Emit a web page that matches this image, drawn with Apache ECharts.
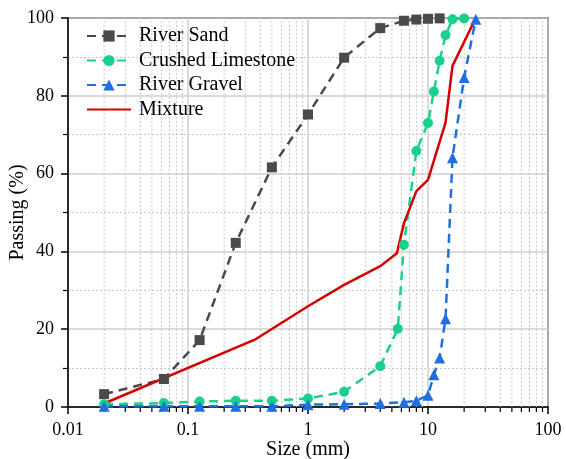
<!DOCTYPE html>
<html>
<head>
<meta charset="utf-8">
<script src="https://cdn.jsdelivr.net/npm/echarts@6/dist/echarts.min.js"></script>
<style>html,body{margin:0;padding:0;background:#fff}#c{width:566px;height:459px}</style>
</head>
<body>
<div id="c"></div>
<script>
// Sizes (mm) and passing (%)
var sandSizes = [0.02, 0.063, 0.125, 0.25, 0.5, 1, 2, 4, 6.3, 8, 10, 12.5];
var sandPass  = [3.3, 7.2, 17.2, 42.2, 61.6, 75.2, 89.8, 97.4, 99.3, 99.6, 99.8, 99.9];

var limeSizes = [0.02, 0.063, 0.125, 0.25, 0.5, 1, 2, 4, 5.6, 6.3, 8, 10, 11.2, 12.5, 14, 16, 20];
var limePass  = [0.7, 1.0, 1.4, 1.6, 1.6, 2.2, 3.9, 10.5, 20.1, 41.7, 65.8, 73.0, 81.1, 89.0, 95.6, 99.7, 99.9];

var gravSizes = [0.02, 0.063, 0.125, 0.25, 0.5, 1, 2, 4, 6.3, 8, 10, 11.2, 12.5, 14, 16, 20, 25];
var gravPass  = [0.2, 0.2, 0.2, 0.2, 0.2, 0.6, 0.7, 0.9, 1.2, 1.6, 3.0, 8.3, 12.6, 22.7, 64.1, 84.7, 99.7];

var mixSizes = [0.02, 0.36, 1, 2, 4, 5.5, 6.3, 8, 10, 14, 16, 25];
var mixPass  = [0.9, 17.3, 25.9, 31.4, 36.2, 39.5, 47.2, 55.5, 58.4, 73.1, 87.7, 100];

var seriesNames = ['River Sand', 'Crushed Limestone', 'River Gravel', 'Mixture'];
var xTicks = [0.01, 0.1, 1, 10, 100];
// minor (unlabelled) log ticks: 2..9 within each decade
var xMinorTicks = [0.02, 0.03, 0.04, 0.05, 0.06, 0.07, 0.08, 0.09,
                   0.2, 0.3, 0.4, 0.5, 0.6, 0.7, 0.8, 0.9,
                   2, 3, 4, 5, 6, 7, 8, 9,
                   20, 30, 40, 50, 60, 70, 80, 90];
var yMin = 0, yMax = 100, yStep = 20;

function pairs(xs, ys) { return xs.map(function (x, i) { return [x, ys[i]]; }); }

var FONT = 'Liberation Serif';
var chart = echarts.init(document.getElementById('c'), null, {renderer: 'canvas'});
var dash = [9, 6];

chart.setOption({
  animation: false,
  backgroundColor: '#fff',
  grid: {left: 68, right: 18, top: 18, bottom: 52, containLabel: false, outerBoundsMode: 'none',
         show: true, borderColor: '#000', borderWidth: 1.5, backgroundColor: 'transparent'},
  legend: {
    orient: 'vertical', left: 81, top: 21, itemWidth: 44, itemHeight: 14, itemGap: 4.5,
    textStyle: {fontFamily: FONT, fontSize: 20, color: '#000', padding: [0, 0, 0, 3]},
    data: [seriesNames[0], seriesNames[1], seriesNames[2], {name: seriesNames[3], itemStyle: {opacity: 0}}]
  },
  xAxis: {
    type: 'log', logBase: 10, min: xTicks[0], max: xTicks[xTicks.length - 1],
    name: 'Size (mm)', nameLocation: 'middle', nameGap: 33, nameMoveOverlap: false,
    nameTextStyle: {fontFamily: FONT, fontSize: 20, color: '#000'},
    axisLine: {lineStyle: {color: '#000', width: 1.5}},
    axisTick: {show: true, length: 7, lineStyle: {color: '#000', width: 1.5}},
    minorTick: {show: false},
    splitLine: {show: true, lineStyle: {color: '#cfcfcf', width: 1.5}},
    minorSplitLine: {show: false},
    axisLabel: {fontFamily: FONT, fontSize: 18, color: '#000', margin: 14}
  },
  yAxis: {
    type: 'value', min: yMin, max: yMax, interval: yStep,
    name: 'Passing (%)', nameLocation: 'middle', nameGap: 40, nameMoveOverlap: false,
    nameTextStyle: {fontFamily: FONT, fontSize: 20, color: '#000'},
    axisLine: {show: true, lineStyle: {color: '#000', width: 1.5}},
    axisTick: {show: true, length: 7, lineStyle: {color: '#000', width: 1.5}},
    minorTick: {show: true, splitNumber: 2, length: 5, lineStyle: {color: '#000', width: 1.2}},
    splitLine: {show: true, lineStyle: {color: '#cfcfcf', width: 1.5}},
    minorSplitLine: {show: true, lineStyle: {color: '#c8c8c8', width: 1, type: [2, 2]}},
    axisLabel: {fontFamily: FONT, fontSize: 18, color: '#000', margin: 14}
  },
  series: [
    {
      name: 'minorTicks', type: 'custom', silent: true, clip: false, z: 1,
      data: xMinorTicks.map(function (v) { return [v, yMin]; }),
      renderItem: function (params, api) {
        var v = api.value(0);
        var pb = api.coord([v, yMin]);
        var pt = api.coord([v, yMax]);
        return {
          type: 'group',
          children: [
            {type: 'line', shape: {x1: pb[0], y1: pb[1], x2: pt[0], y2: pt[1]},
             style: {stroke: '#c8c8c8', lineWidth: 1, lineDash: [2, 2]}},
            {type: 'line', shape: {x1: pb[0], y1: pb[1], x2: pb[0], y2: pb[1] + 5},
             style: {stroke: '#000', lineWidth: 1.2}}
          ]
        };
      }
    },
    {name: seriesNames[0], type: 'line', data: pairs(sandSizes, sandPass), symbol: 'rect', symbolSize: 10, z: 3,
     itemStyle: {color: '#4a4a4a'}, lineStyle: {color: '#4a4a4a', width: 2.5, type: dash}},
    {name: seriesNames[1], type: 'line', data: pairs(limeSizes, limePass), symbol: 'circle', symbolSize: 10, z: 3,
     itemStyle: {color: '#1ad18b'}, lineStyle: {color: '#1ad18b', width: 2.5, type: dash}},
    {name: seriesNames[2], type: 'line', data: pairs(gravSizes, gravPass), symbol: 'triangle', symbolSize: 11, z: 3,
     itemStyle: {color: '#1f6fe0'}, lineStyle: {color: '#1f6fe0', width: 2.5, type: dash}},
    {name: seriesNames[3], type: 'line', data: pairs(mixSizes, mixPass), symbol: 'none', showSymbol: false, z: 3,
     itemStyle: {color: '#d40000'}, lineStyle: {color: '#d40000', width: 2.5}}
  ]
});
</script>
</body>
</html>
